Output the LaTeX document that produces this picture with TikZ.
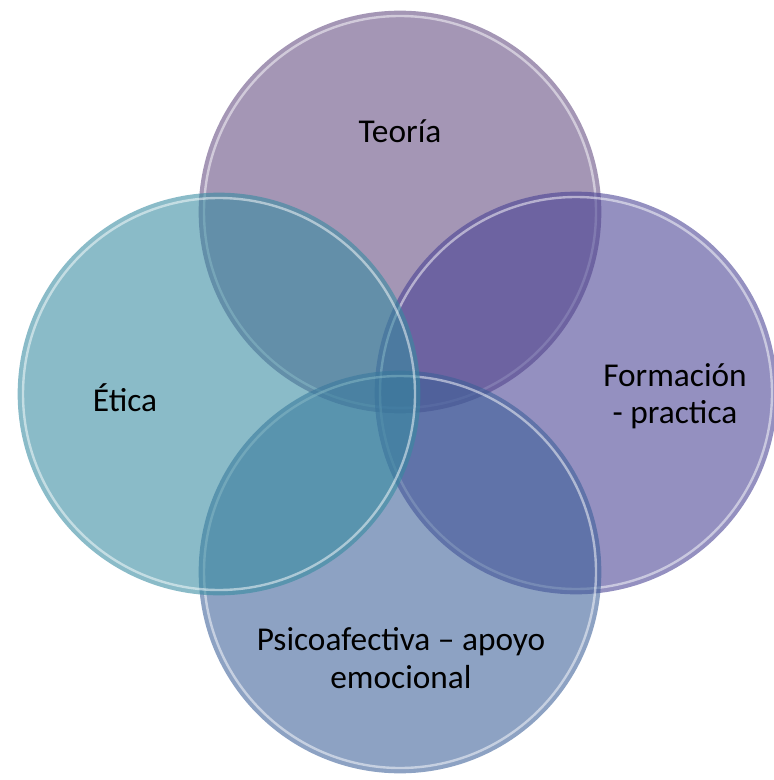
\documentclass[tikz,border=0pt]{standalone}
\usepackage{fontspec}
\setmainfont{Carlito}
\definecolor{teoriacol}{RGB}{98,74,128}
\definecolor{formcol}{RGB}{71,64,147}
\definecolor{psicocol}{RGB}{59,95,152}
\definecolor{eticacol}{RGB}{53,138,160}
\tikzset{
  bubble/.style={circle, inner sep=0pt, minimum size=302pt, fill=#1, fill opacity=0.58},
  rim/.style={draw=white, draw opacity=0.5, line width=1.8pt},
  lbl/.style={font=\fontsize{25}{28}\selectfont, align=center, text=black}
}
\begin{document}
\begin{tikzpicture}[x=0.75pt,y=-0.75pt]
  \useasboundingbox (0,0) rectangle (773,780);

  % four glass circles, drawn clockwise from the top
  \foreach \name/\col/\cx/\cy in {teoria/teoriacol/400/212, formacion/formcol/576/393,
                                  psico/psicocol/400/572, etica/eticacol/219/394} {
    \node[bubble=\col] (\name) at (\cx,\cy) {};
    \draw[rim] (\name.center) circle[radius=147pt];
  }

  \node[lbl] (lteoria)    at (400,131) {Teoría};
  \node[lbl] (lformacion) at (675,396) {Formación\\- practica};
  \node[lbl] (lpsico)     at (401,658) {Psicoafectiva – apoyo\\emocional};
  \node[lbl] (letica)     at (125,398) {Ética};
\end{tikzpicture}
\end{document}
